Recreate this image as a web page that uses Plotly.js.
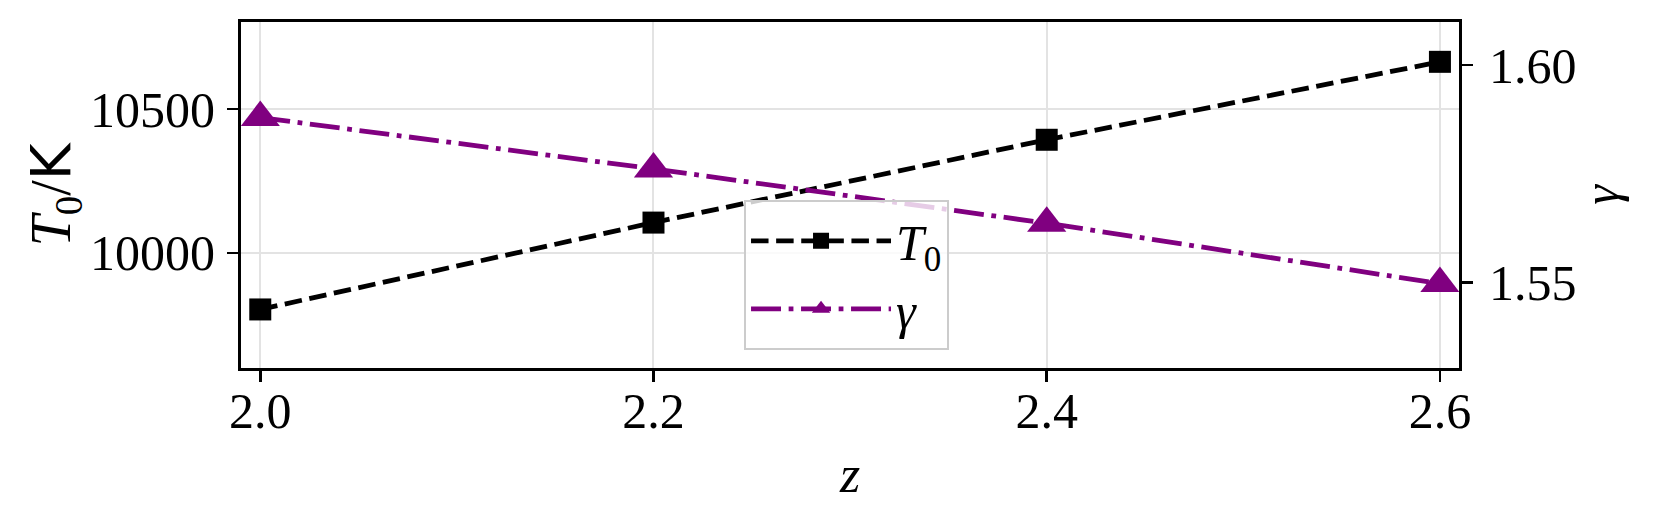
<!DOCTYPE html>
<html>
<head>
<meta charset="utf-8">
<script src="https://cdn.plot.ly/plotly-3.0.1.min.js"></script>
<style>
  body { margin: 0; background: #fff; }
  #plot { width: 1659px; height: 525px; }
</style>
</head>
<body>
<div id="plot"></div>
<script>
// values
var redshift = [2.0, 2.2, 2.4, 2.6];
var T0 = [9803, 10105, 10393, 10664];
var gammaVals = [1.5879, 1.5761, 1.5636, 1.5497];

var xTicks = [2.0, 2.2, 2.4, 2.6];
var xTickText = ["2.0", "2.2", "2.4", "2.6"];
var T0Ticks = [10000, 10500];
var T0TickText = ["10000", "10500"];
var gammaTicks = [1.55, 1.60];
var gammaTickText = ["1.55", "1.60"];

var FONT = "Liberation Serif, DejaVu Serif, serif";
var lw = 4.8;

var traceT0 = {
  x: redshift,
  y: T0,
  type: "scatter",
  mode: "lines+markers",
  name: "<i>T</i><sub>0</sub>",
  yaxis: "y",
  line: { color: "black", width: lw, dash: "17.5px,7.6px" },
  marker: { symbol: "square", size: 22, color: "black" }
};

var traceGamma = {
  x: redshift,
  y: gammaVals,
  type: "scatter",
  mode: "lines+markers",
  name: "<i>γ</i>",
  yaxis: "y2",
  line: { color: "#800080", width: lw, dash: "30px,7.6px,4.8px,7.6px" },
  marker: { symbol: "triangle-up", size: 34, color: "#800080" }
};

var layout = {
  width: 1659,
  height: 525,
  margin: { l: 241, r: 200, t: 22, b: 157 },
  paper_bgcolor: "white",
  plot_bgcolor: "white",
  font: { family: FONT, size: 50, color: "black" },
  showlegend: true,
  legend: {
    x: 0.413,
    y: 0.486,
    xanchor: "left",
    yanchor: "top",
    bgcolor: "rgba(255,255,255,0.8)",
    bordercolor: "#cccccc",
    borderwidth: 2,
    font: { family: FONT, size: 50, color: "black" },
    itemwidth: 140,
    tracegroupgap: 0
  },
  xaxis: {
    range: [1.9902, 2.6097],
    tickvals: xTicks,
    ticktext: xTickText,
    ticks: "outside",
    ticklen: 11,
    tickwidth: 2.5,
    tickcolor: "black",
    showline: true,
    linecolor: "black",
    linewidth: 3,
    mirror: true,
    showgrid: true,
    gridcolor: "#e3e3e3",
    gridwidth: 2,
    zeroline: false,
    ticklabelstandoff: -14,
    tickfont: { family: FONT, size: 50, color: "black" },
    title: { text: "<i>z</i>", font: { family: FONT, size: 52, color: "black" }, standoff: 18 }
  },
  yaxis: {
    range: [9599.4, 10802.5],
    tickvals: T0Ticks,
    ticktext: T0TickText,
    ticks: "outside",
    ticklen: 11,
    tickwidth: 2.5,
    tickcolor: "black",
    showline: true,
    linecolor: "black",
    linewidth: 3,
    mirror: true,
    showgrid: true,
    gridcolor: "#e3e3e3",
    gridwidth: 2,
    zeroline: false,
    ticklabelstandoff: 2,
    tickfont: { family: FONT, size: 50, color: "black" },
    title: {
      text: "<i>T</i><sub>0</sub>/<span style=\"font-family:DejaVu Sans\">K</span>",
      font: { family: FONT, size: 56, color: "black" },
      standoff: 2
    }
  },
  yaxis2: {
    overlaying: "y",
    side: "right",
    range: [1.53028, 1.6099],
    tickvals: gammaTicks,
    ticktext: gammaTickText,
    ticks: "outside",
    ticklen: 11,
    tickwidth: 2.5,
    tickcolor: "black",
    showline: true,
    linecolor: "black",
    linewidth: 3,
    showgrid: false,
    zeroline: false,
    ticklabelstandoff: 6,
    tickfont: { family: FONT, size: 50, color: "black" },
    title: { text: "<i>γ</i>", font: { family: FONT, size: 50, color: "black" }, standoff: 8 }
  }
};

Plotly.newPlot("plot", [traceT0, traceGamma], layout, { staticPlot: true });
</script>
</body>
</html>
